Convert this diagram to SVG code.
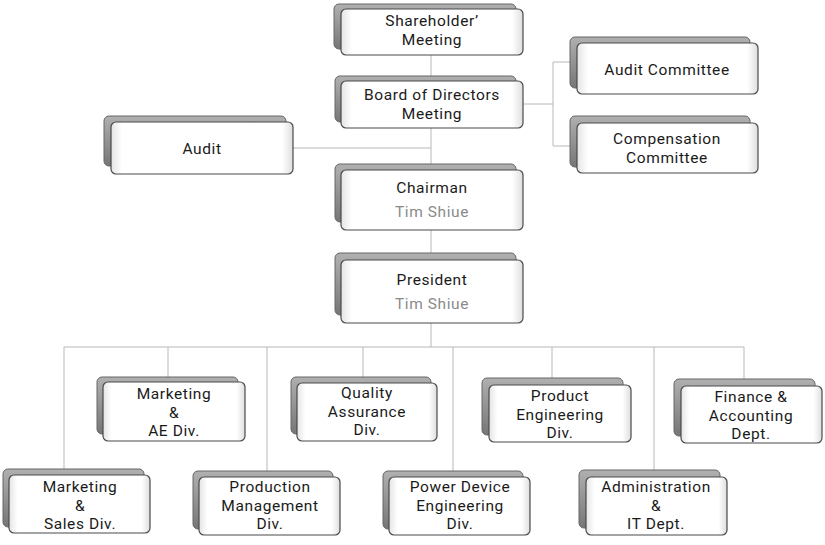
<svg xmlns="http://www.w3.org/2000/svg" width="825" height="545" viewBox="0 0 825 545">
<defs>
<linearGradient id="gBack" x1="0" y1="0" x2="0" y2="1"><stop offset="0" stop-color="#b0b0b0"/><stop offset="1" stop-color="#767676"/></linearGradient>
<linearGradient id="gFront" x1="0" y1="0" x2="1" y2="0"><stop offset="0" stop-color="#e4e4e4"/><stop offset="0.06" stop-color="#ffffff"/><stop offset="0.94" stop-color="#ffffff"/><stop offset="1" stop-color="#dedede"/></linearGradient>
</defs>
<style>
.back{fill:url(#gBack);stroke:#666;stroke-width:1}
.front{fill:url(#gFront);stroke:#4a4a4a;stroke-width:1.2}
.t{font-family:Roboto,"Noto Sans","DejaVu Sans",sans-serif;font-size:15.5px;letter-spacing:0.6px;fill:#1a1a1a;text-anchor:middle}
.g{fill:#8a8a8a}
.ln{stroke:#b8b8b8;stroke-width:1;fill:none}
</style>
<g id="connectors">
<path class="ln" d="M431,55V81M431,128V171M431,230V260M293,148H431M523,104H553M553,62V146M553,62H570M553,146H570M431,323V347M64,347H744M64,347V469M168,347V377M267,347V471M363,347V377M453,347V471M552,347V378M654,347V470M744,347V379"/>
</g>
<g id="shareholder">
<rect class="back" x="334" y="4" width="182" height="45" rx="5"/>
<rect class="front" x="341" y="9" width="182" height="46" rx="5"/>
<text class="t" x="432" y="26">Shareholder’</text><text class="t" x="432" y="45">Meeting</text>
</g>
<g id="board">
<rect class="back" x="335" y="76" width="181" height="46" rx="5"/>
<rect class="front" x="341" y="81" width="182" height="47" rx="5"/>
<text class="t" x="432" y="100">Board of Directors</text><text class="t" x="432" y="118.5">Meeting</text>
</g>
<g id="audit">
<rect class="back" x="104" y="116" width="182" height="50" rx="5"/>
<rect class="front" x="111" y="122" width="182" height="52" rx="5"/>
<text class="t" x="202" y="154">Audit</text>
</g>
<g id="audit-committee">
<rect class="back" x="570" y="37" width="180" height="51" rx="5"/>
<rect class="front" x="577" y="43" width="181" height="51" rx="5"/>
<text class="t" x="667" y="75">Audit Committee</text>
</g>
<g id="compensation">
<rect class="back" x="570" y="116" width="180" height="51" rx="5"/>
<rect class="front" x="577" y="123" width="181" height="50" rx="5"/>
<text class="t" x="667" y="144">Compensation</text><text class="t" x="667" y="163">Committee</text>
</g>
<g id="chairman">
<rect class="back" x="335" y="164" width="181" height="58" rx="5"/>
<rect class="front" x="341" y="170" width="182" height="60" rx="5"/>
<text class="t" x="432" y="193">Chairman</text><text class="t g" x="432" y="217">Tim Shiue</text>
</g>
<g id="president">
<rect class="back" x="335" y="253" width="181" height="62" rx="5"/>
<rect class="front" x="341" y="260" width="182" height="63" rx="5"/>
<text class="t" x="432" y="285">President</text><text class="t g" x="432" y="309">Tim Shiue</text>
</g>
<g id="marketing-ae">
<rect class="back" x="97" y="377" width="141" height="57" rx="5"/>
<rect class="front" x="103" y="382" width="142" height="59" rx="5"/>
<text class="t" x="174" y="399">Marketing</text><text class="t" x="174" y="417.5">&amp;</text><text class="t" x="174" y="436">AE Div.</text>
</g>
<g id="quality">
<rect class="back" x="291" y="377" width="140" height="57" rx="5"/>
<rect class="front" x="297" y="383" width="140" height="58" rx="5"/>
<text class="t" x="367" y="398">Quality</text><text class="t" x="367" y="416.5">Assurance</text><text class="t" x="367" y="435">Div.</text>
</g>
<g id="product-eng">
<rect class="back" x="482" y="378" width="141" height="57" rx="5"/>
<rect class="front" x="489" y="385" width="142" height="57" rx="5"/>
<text class="t" x="560" y="401">Product</text><text class="t" x="560" y="419.5">Engineering</text><text class="t" x="560" y="438">Div.</text>
</g>
<g id="finance">
<rect class="back" x="674" y="379" width="141" height="57" rx="5"/>
<rect class="front" x="681" y="386" width="141" height="57" rx="5"/>
<text class="t" x="751" y="402">Finance &amp;</text><text class="t" x="751" y="420.5">Accounting</text><text class="t" x="751" y="439">Dept.</text>
</g>
<g id="marketing-sales">
<rect class="back" x="3" y="469" width="141" height="58" rx="5"/>
<rect class="front" x="9" y="475" width="141" height="58" rx="5"/>
<text class="t" x="80" y="492">Marketing</text><text class="t" x="80" y="510.5">&amp;</text><text class="t" x="80" y="529">Sales Div.</text>
</g>
<g id="production">
<rect class="back" x="193" y="471" width="140" height="58" rx="5"/>
<rect class="front" x="199" y="477" width="141" height="58" rx="5"/>
<text class="t" x="270" y="492">Production</text><text class="t" x="270" y="510.5">Management</text><text class="t" x="270" y="529">Div.</text>
</g>
<g id="power-device">
<rect class="back" x="383" y="471" width="140" height="58" rx="5"/>
<rect class="front" x="389" y="477" width="141" height="58" rx="5"/>
<text class="t" x="460" y="492">Power Device</text><text class="t" x="460" y="510.5">Engineering</text><text class="t" x="460" y="529">Div.</text>
</g>
<g id="administration">
<rect class="back" x="579" y="470" width="141" height="58" rx="5"/>
<rect class="front" x="586" y="477" width="141" height="58" rx="5"/>
<text class="t" x="656" y="492">Administration</text><text class="t" x="656" y="510.5">&amp;</text><text class="t" x="656" y="529">IT Dept.</text>
</g>
</svg>
